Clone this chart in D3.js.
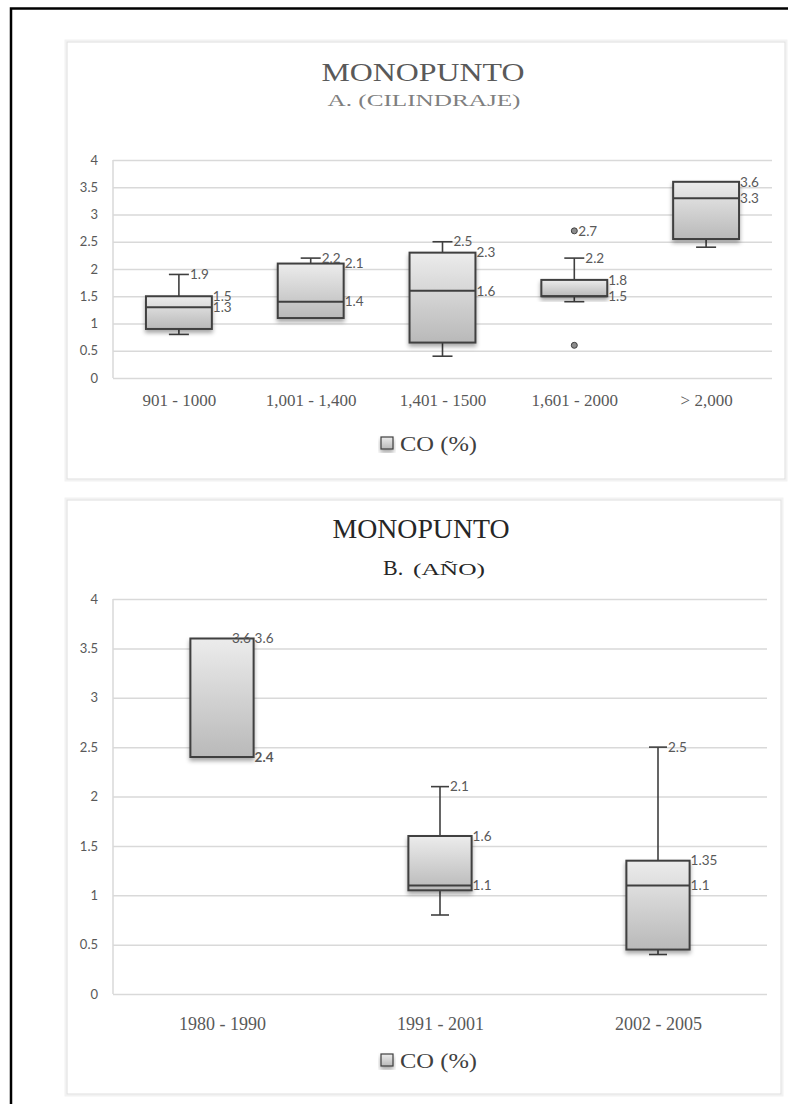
<!DOCTYPE html>
<html>
<head>
<meta charset="utf-8">
<script src="https://cdn.jsdelivr.net/npm/d3@7"></script>
<style>
  html, body { margin: 0; padding: 0; background: #fff; }
  svg { display: block; }
</style>
</head>
<body>
<svg id="chart" width="788" height="1104"></svg>
<script>
// ---- Panel A: CO (%) by engine displacement ----
const catsA  = ["901 - 1000", "1,001 - 1,400", "1,401 - 1500", "1,601 - 2000", "> 2,000"];
const minA   = [0.8, 1.1, 0.4, 1.4, 2.4];
const q1A    = [0.9, 1.1, 0.65, 1.5, 2.55];
const medA   = [1.3, 1.4, 1.6, 1.5, 3.3];
const q3A    = [1.5, 2.1, 2.3, 1.8, 3.6];
const maxA   = [1.9, 2.2, 2.5, 2.2, 3.6];
const showMaxA = [true, true, true, true, false];
const outCatA  = ["1,601 - 2000", "1,601 - 2000"];
const outValA  = [2.7, 0.6];
const outLblA  = [true, false];

// ---- Panel B: CO (%) by model year ----
const catsB  = ["1980 - 1990", "1991 - 2001", "2002 - 2005"];
const minB   = [2.4, 0.8, 0.4];
const q1B    = [2.4, 1.05, 0.45];
const medB   = [2.4, 1.1, 1.1];
const q3B    = [3.6, 1.6, 1.35];
const maxB   = [3.6, 2.1, 2.5];
const showMaxB = [true, true, true];

const yTicks = [0, 0.5, 1, 1.5, 2, 2.5, 3, 3.5, 4];
const fmt = d3.format("~g");

const svg = d3.select("#chart");
const defs = svg.append("defs");

const grad = defs.append("linearGradient")
  .attr("id", "boxFill").attr("x1", 0).attr("y1", 0).attr("x2", 0).attr("y2", 1);
grad.append("stop").attr("offset", "0%").attr("stop-color", "#ececec");
grad.append("stop").attr("offset", "100%").attr("stop-color", "#b9b9b9");

const shadow = defs.append("filter").attr("id", "shadow")
  .attr("x", "-20%").attr("y", "-20%").attr("width", "140%").attr("height", "150%");
shadow.append("feDropShadow").attr("dx", 0).attr("dy", 3)
  .attr("stdDeviation", 2).attr("flood-color", "#000").attr("flood-opacity", 0.35);

// outer page frame
svg.append("path")
  .attr("d", "M11,1104 L11,8.5 L788,8.5")
  .attr("fill", "none").attr("stroke", "#000").attr("stroke-width", 2.5);

function drawPanel(p) {
  const g = svg.append("g");

  // panel frame
  g.append("rect").attr("x", p.box[0] - 1.5).attr("y", p.box[1] - 1.5)
    .attr("width", p.box[2] + 3).attr("height", p.box[3] + 3)
    .attr("fill", "none").attr("stroke", "#f2f2f2").attr("stroke-width", 2);
  g.append("rect").attr("x", p.box[0]).attr("y", p.box[1])
    .attr("width", p.box[2]).attr("height", p.box[3])
    .attr("fill", "#fff").attr("stroke", "#dedede").attr("stroke-width", 1);

  const x = d3.scalePoint().domain(p.cats).range([p.left, p.right]).padding(0.5);
  const y = d3.scaleLinear().domain([0, 4]).range([p.bottom, p.top]);

  // gridlines
  const grid = g.append("g").attr("transform", `translate(${p.left},0)`)
    .call(d3.axisLeft(y).tickValues(yTicks).tickSize(-(p.right - p.left)).tickFormat(""));
  grid.select(".domain").remove();
  grid.selectAll(".tick line").attr("stroke", "#d9d9d9").attr("stroke-width", 1.5);

  // y axis line
  g.append("line").attr("x1", p.left).attr("x2", p.left)
    .attr("y1", p.top).attr("y2", p.bottom)
    .attr("stroke", "#d9d9d9").attr("stroke-width", 1.5);

  // y tick labels
  const ya = g.append("g").attr("transform", `translate(${p.left - 12},0)`)
    .call(d3.axisLeft(y).tickValues(yTicks).tickSize(0).tickFormat(fmt));
  ya.select(".domain").remove();
  ya.selectAll("text").attr("font-family", "Lato, 'Open Sans', sans-serif")
    .attr("font-size", 13).attr("fill", "#595959");

  // x labels
  const xa = g.append("g").attr("transform", `translate(0,${p.bottom})`)
    .call(d3.axisBottom(x).tickSize(0).tickPadding(p.xPad));
  xa.select(".domain").remove();
  xa.selectAll("text").attr("font-family", "'Liberation Serif', 'Times New Roman', serif")
    .attr("font-size", p.xFont).attr("fill", "#595959");

  const bw = x.step() * p.boxFrac;
  const cw = p.capW;
  const idx = d3.range(p.cats.length);
  const dark = "#3f3f3f";

  // whiskers
  idx.forEach(i => {
    const cx = x(p.cats[i]);
    if (p.max[i] > p.q3[i]) {
      g.append("line").attr("x1", cx).attr("x2", cx).attr("y1", y(p.q3[i])).attr("y2", y(p.max[i]))
        .attr("stroke", dark).attr("stroke-width", 1.6);
      g.append("line").attr("x1", cx - cw / 2).attr("x2", cx + cw / 2).attr("y1", y(p.max[i])).attr("y2", y(p.max[i]))
        .attr("stroke", dark).attr("stroke-width", 1.6);
    }
    if (p.min[i] < p.q1[i]) {
      g.append("line").attr("x1", cx).attr("x2", cx).attr("y1", y(p.q1[i])).attr("y2", y(p.min[i]))
        .attr("stroke", dark).attr("stroke-width", 1.6);
      g.append("line").attr("x1", cx - cw / 2).attr("x2", cx + cw / 2).attr("y1", y(p.min[i])).attr("y2", y(p.min[i]))
        .attr("stroke", dark).attr("stroke-width", 1.6);
    }
  });

  // boxes
  g.selectAll("rect.box").data(idx).join("rect").attr("class", "box")
    .attr("x", i => x(p.cats[i]) - bw / 2)
    .attr("y", i => y(p.q3[i]))
    .attr("width", bw)
    .attr("height", i => y(p.q1[i]) - y(p.q3[i]))
    .attr("fill", "url(#boxFill)")
    .attr("stroke", dark).attr("stroke-width", 2)
    .attr("filter", "url(#shadow)");

  // medians
  g.selectAll("line.med").data(idx).join("line").attr("class", "med")
    .attr("x1", i => x(p.cats[i]) - bw / 2).attr("x2", i => x(p.cats[i]) + bw / 2)
    .attr("y1", i => y(p.med[i])).attr("y2", i => y(p.med[i]))
    .attr("stroke", dark).attr("stroke-width", 2);

  // outliers
  if (p.outCat) {
    p.outCat.forEach((c, k) => {
      g.append("circle").attr("cx", x(c)).attr("cy", y(p.outVal[k])).attr("r", 3)
        .attr("fill", "#8c8c8c").attr("stroke", "#404040").attr("stroke-width", 1);
      if (p.outLbl[k]) {
        g.append("text").attr("x", x(c) + 4).attr("y", y(p.outVal[k])).attr("dy", "0.35em")
          .attr("font-family", "Lato, 'Open Sans', sans-serif").attr("font-size", p.lblFont)
          .attr("fill", "#595959").text(fmt(p.outVal[k]));
      }
    });
  }

  // value labels
  const lbl = (xx, v, weight) => g.append("text").attr("x", xx).attr("y", y(v)).attr("dy", "0.35em")
    .attr("font-family", "Lato, 'Open Sans', sans-serif").attr("font-size", p.lblFont)
    .attr("font-weight", weight || "normal")
    .attr("fill", "#595959").text(fmt(v));
  idx.forEach(i => {
    const cx = x(p.cats[i]);
    if (p.showMax[i]) lbl(cx + cw / 2 + 1, p.max[i]);
    lbl(cx + bw / 2 + 1, p.q3[i]);
    lbl(cx + bw / 2 + 1, p.med[i], p.med[i] === p.q1[i] && p.q1[i] === p.min[i] ? "bold" : "normal");
  });

  // titles
  p.titles(g);

  // legend
  const lg = g.append("g").attr("transform", `translate(${p.legend[0]},${p.legend[1]})`);
  lg.append("rect").attr("x", 0).attr("y", -6).attr("width", 12).attr("height", 12)
    .attr("fill", "url(#boxFill)").attr("stroke", dark).attr("stroke-width", 1.2)
    .attr("filter", "url(#shadow)");
  lg.append("text").attr("x", 19).attr("y", 0).attr("dy", "0.35em")
    .attr("font-family", "'Liberation Serif', 'Times New Roman', serif")
    .attr("font-size", 22).attr("textLength", 77).attr("lengthAdjust", "spacingAndGlyphs")
    .attr("fill", "#404040").text("CO (%)");
}

drawPanel({
  box: [67, 42, 718, 437],
  left: 113, right: 772, top: 160, bottom: 378,
  cats: catsA, min: minA, q1: q1A, med: medA, q3: q3A, max: maxA, showMax: showMaxA,
  outCat: outCatA, outVal: outValA, outLbl: outLblA,
  boxFrac: 0.5, capW: 20, lblFont: 13.5, xFont: 17, xPad: 16,
  legend: [381, 443],
  titles: g => {
    g.append("text").attr("x", 423).attr("y", 81).attr("text-anchor", "middle")
      .attr("font-family", "'Liberation Serif', serif").attr("font-size", 26)
      .attr("textLength", 203).attr("lengthAdjust", "spacingAndGlyphs")
      .attr("fill", "#595959").text("MONOPUNTO");
    g.append("text").attr("x", 424).attr("y", 106).attr("text-anchor", "middle")
      .attr("font-family", "'Liberation Serif', serif").attr("font-size", 16)
      .attr("textLength", 193).attr("lengthAdjust", "spacingAndGlyphs")
      .attr("fill", "#7f7f7f").text("A. (CILINDRAJE)");
  }
});

drawPanel({
  box: [67, 500, 714, 594],
  left: 113, right: 767, top: 599, bottom: 994,
  cats: catsB, min: minB, q1: q1B, med: medB, q3: q3B, max: maxB, showMax: showMaxB,
  boxFrac: 0.29, capW: 18, lblFont: 13.5, xFont: 18, xPad: 23,
  legend: [381, 1060],
  titles: g => {
    g.append("text").attr("x", 421).attr("y", 538).attr("text-anchor", "middle")
      .attr("font-family", "'Liberation Serif', serif").attr("font-size", 27)
      .attr("textLength", 177).attr("lengthAdjust", "spacingAndGlyphs")
      .attr("fill", "#262626").text("MONOPUNTO");
    g.append("text").attr("x", 383).attr("y", 575)
      .attr("font-family", "'Liberation Serif', serif").attr("font-size", 22)
      .attr("fill", "#262626").text("B.");
    g.append("text").attr("x", 413).attr("y", 575)
      .attr("font-family", "'Liberation Serif', serif").attr("font-size", 17)
      .attr("textLength", 72).attr("lengthAdjust", "spacingAndGlyphs")
      .attr("fill", "#262626").text("(AÑO)");
  }
});
</script>
</body>
</html>
